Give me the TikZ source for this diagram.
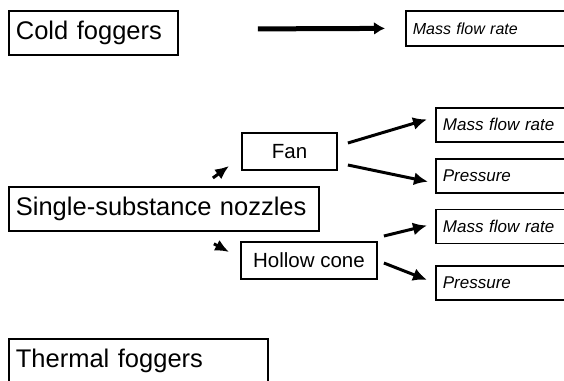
\documentclass[tikz,border=0pt]{standalone}
\usepackage{fontspec}
\setmainfont{Liberation Sans}
\usepackage{tikz}
\usetikzlibrary{arrows.meta, positioning}

\begin{document}
\begin{tikzpicture}[
		x=1pt, y=-1pt,
		group/.style={draw, line width=1.8pt, anchor=north west, minimum height=44pt, inner xsep=7pt, inner ysep=0pt, align=left, font=\fontsize{25.5}{30}\selectfont},
		kind/.style={draw, line width=1.8pt, minimum height=37pt, inner sep=0pt, font=\fontsize{20.5}{24}\selectfont},
		param/.style={draw, line width=1.8pt, anchor=north west, minimum height=34pt, text width=160pt, inner xsep=7pt, inner ysep=0pt, align=left, font=\itshape\fontsize{17}{20}\selectfont},
		edge/.style={-{Latex[length=14pt, width=13pt]}, line width=3pt},
		node distance=15pt
		]
		
		\useasboundingbox (0,0) rectangle (564,380);
		\clip (0,0) rectangle (564,380);
		
		% Gruppen
		\node[group, text width=155pt] (cold) at (8,10) {Cold foggers};
		\node[group, text width=296pt] (single) at (8,186) {Single-substance nozzles};
		\node[group, text width=245pt] (thermal) at (8,338) {Thermal foggers};
		
		% Duesenarten
		\node[kind, minimum width=95pt] (fan) at (289.5,151.5) {Fan};
		\node[kind, minimum width=136pt] (hollow) at (309,260.5) {Hollow cone};
		
		% Parameter
		\node[param, minimum height=35pt, font=\itshape\fontsize{16}{19}\selectfont] (mfr0) at (405,10) {Mass flow rate};
		\node[param] (mfr1) at (435,107) {Mass flow rate};
		\node[param, below=of mfr1] (pr1) {Pressure};
		\node[param, below=of pr1] (mfr2) {Mass flow rate};
		\node[param] (pr2) at (435,265) {Pressure};
		
		% Pfeile
		\draw[-{Latex[length=11pt, width=13pt]}, line width=5pt] ([shift={(79,-4)}]cold.east) -- ([shift={(-20,0)}]mfr0.west);
		\draw[edge, -{Latex[length=14pt, width=12pt]}] ([shift={(49,-8)}]single.north) -- ([shift={(-12,-5)}]fan.south west);
		\draw[edge, -{Latex[length=14pt, width=12pt]}] ([shift={(50,12)}]single.south) -- ([shift={(-11,-8.5)}]hollow.west);
		\draw[edge] ([shift={(10,-8.5)}]fan.east) -- ([shift={(-8,-5.5)}]mfr1.west);
		\draw[edge] ([shift={(10,13.5)}]fan.east) -- ([shift={(-7,6)}]pr1.west);
		\draw[edge] ([shift={(6,-24.5)}]hollow.east) -- ([shift={(-8,-1)}]mfr2.west);
		\draw[edge] ([shift={(6,2.5)}]hollow.east) -- ([shift={(-8,-3)}]pr2.west);
		
	\end{tikzpicture}
\end{document}
